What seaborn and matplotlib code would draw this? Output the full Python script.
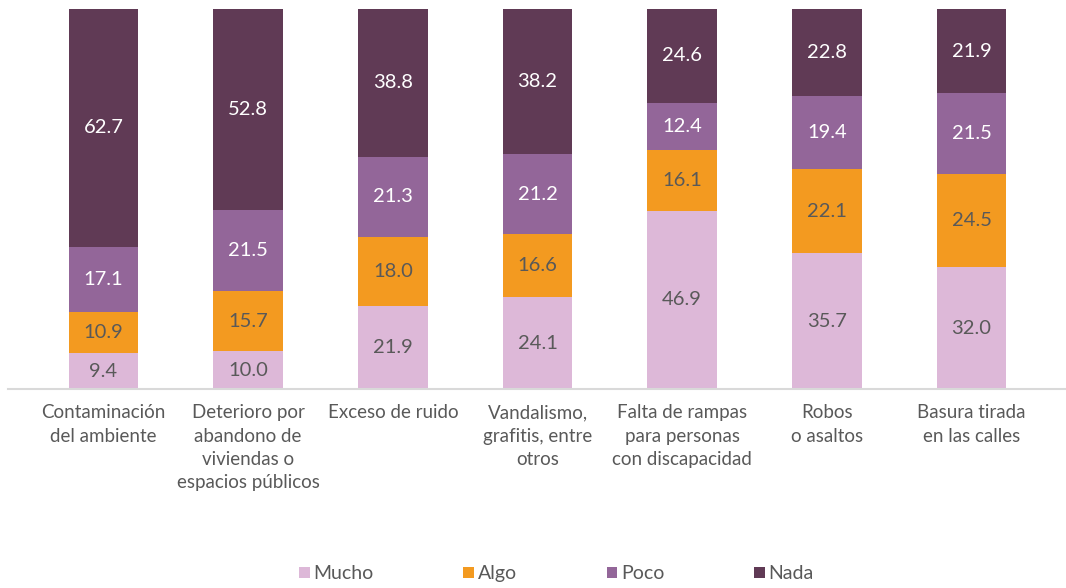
import numpy as np
import pandas as pd
import seaborn as sns
import matplotlib.pyplot as plt

# Data
categorias = ["Contaminación\ndel ambiente",
              "Deterioro por\nabandono de\nviviendas o\nespacios públicos",
              "Exceso de ruido",
              "Vandalismo,\ngrafitis, entre\notros",
              "Falta de rampas\npara personas\ncon discapacidad",
              "Robos\no asaltos",
              "Basura tirada\nen las calles"]
mucho = [9.4, 10.0, 21.9, 24.1, 46.9, 35.7, 32.0]
algo = [10.9, 15.7, 18.0, 16.6, 16.1, 22.1, 24.5]
poco = [17.1, 21.5, 21.3, 21.2, 12.4, 19.4, 21.5]
nada = [62.7, 52.8, 38.8, 38.2, 24.6, 22.8, 21.9]

series = ["Mucho", "Algo", "Poco", "Nada"]
colores = ["#DDB8D8", "#F39A20", "#936699", "#603A55"]
color_texto = ["#595959", "#595959", "white", "white"]

sns.set_style("white")
plt.rcParams['font.family'] = ['Lato', 'DejaVu Sans']

fig = plt.figure(figsize=(10.66, 5.88), dpi=100)
ax = fig.add_axes([8 / 1066, 1 - 389 / 588, 1058 / 1066, 389 / 588])

df = pd.DataFrame({"cat": categorias})
base = np.zeros(len(categorias))
for nombre, vals, col, tc in zip(series, [mucho, algo, poco, nada], colores, color_texto):
    df[nombre] = vals
    sns.barplot(data=df, x="cat", y=nombre, bottom=base, color=col, width=0.48,
                label=nombre, ax=ax, saturation=1, linewidth=0)
    cont = ax.containers[-1]
    ax.bar_label(cont, labels=[f"{v:.1f}" for v in vals], label_type="center",
                 color=tc, fontsize=14.5)
    base = base + np.array(vals)

ax.set_xlim(-0.66, 6.653)
ax.set_ylim(0, 102.4)
ax.set_xlabel("")
ax.set_ylabel("")
ax.set_yticks([])
ax.set_xticks(range(len(categorias)))
ax.set_xticklabels(categorias, linespacing=1.45, fontsize=13.5, color="#595959",
                   va="top")
ax.tick_params(axis="x", length=0, pad=11)
for s in ["top", "right", "left"]:
    ax.spines[s].set_visible(False)
ax.spines["bottom"].set_color("#D9D9D9")
ax.spines["bottom"].set_linewidth(1.5)

leg = fig.legend(*ax.get_legend_handles_labels(), loc="lower center",
                 bbox_to_anchor=(0.522, -0.02), ncol=4, frameon=False,
                 fontsize=14, handlelength=0.55, handleheight=0.55,
                 handletextpad=0.2, columnspacing=4.6, labelcolor="#595959")
if ax.get_legend():
    ax.get_legend().remove()

fig.savefig("out.png", dpi=100)
